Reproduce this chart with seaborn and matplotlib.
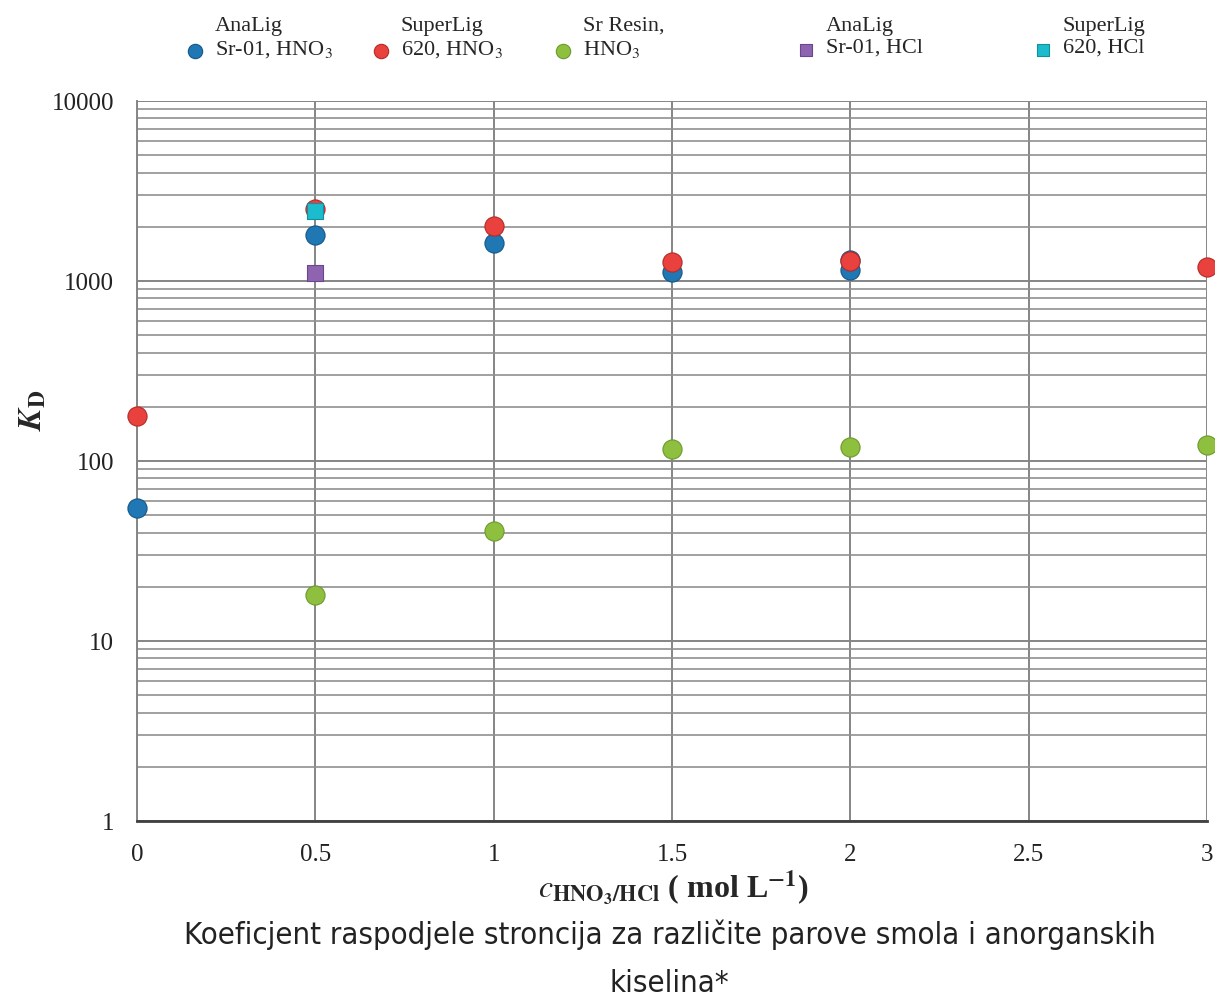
import numpy as np
import pandas as pd
import matplotlib
matplotlib.use("Agg")
import matplotlib.pyplot as plt
import seaborn as sns
from matplotlib.ticker import LogLocator, FixedLocator, NullFormatter

# data
x_analig_hno3 = [0, 0.5, 1, 1.5, 2, 2]
kd_analig_hno3 = [55, 1800, 1620, 1120, 1150, 1300]
x_superlig_hno3 = [0, 0.5, 1, 1.5, 2, 3]
kd_superlig_hno3 = [178, 2500, 2020, 1270, 1290, 1200]
x_srresin_hno3 = [0.5, 1, 1.5, 2, 3]
kd_srresin_hno3 = [18, 40.8, 116, 119, 122]
x_analig_hcl = [0.5]
kd_analig_hcl = [1110]
x_superlig_hcl = [0.5]
kd_superlig_hcl = [2450]

x_ticks = [0, 0.5, 1, 1.5, 2, 2.5, 3]
x_ticklabels = ["0", "0.5", "1", "1.5", "2", "2.5", "3"]

sns.set_style("white")
plt.rcParams['font.family'] = ['Liberation Serif', 'DejaVu Serif']
plt.rcParams['mathtext.fontset'] = 'stix'

W, H = 1215, 1008
fig = plt.figure(figsize=(W / 100, H / 100), dpi=100)
ax = fig.add_axes([137/W, 1 - 821/H, (1207-137)/W, (821-101)/H])

series = [
    (x_analig_hno3, kd_analig_hno3, "#1f77b4", "#15578a", "o", "AnaLig\nSr-01, HNO$_3$"),
    (x_superlig_hno3, kd_superlig_hno3, "#e8413e", "#b52a27", "o", "SuperLig\n620, HNO$_3$"),
    (x_srresin_hno3, kd_srresin_hno3, "#8fbf3f", "#6c9a2a", "o", "Sr Resin,\nHNO$_3$"),
    (x_analig_hcl, kd_analig_hcl, "#8e63b0", "#6a4590", "s", "AnaLig\nSr-01, HCl"),
    (x_superlig_hcl, kd_superlig_hcl, "#1bbccd", "#13909c", "s", "SuperLig\n620, HCl"),
]
for xs, ys, col, edge, mk, lab in series:
    df = pd.DataFrame({"x": xs, "kd": ys})
    size = 190 if mk == "o" else 120
    sns.scatterplot(data=df, x="x", y="kd", ax=ax, color=col, marker=mk, s=size,
                    edgecolor=edge, linewidth=0.8, label=lab, zorder=5,
                    clip_on=False)

ax.set_yscale("log")
ax.set_ylim(1, 10000)
ax.set_xlim(0, 3)
ax.xaxis.set_major_locator(FixedLocator(x_ticks))
ax.set_xticklabels(x_ticklabels)
ax.set_yticks([1, 10, 100, 1000, 10000])
ax.set_yticklabels(["1", "10", "100", "1000", "10000"])
ax.yaxis.set_minor_locator(LogLocator(base=10, subs=np.arange(2, 10), numticks=20))
ax.yaxis.set_minor_formatter(NullFormatter())

ax.grid(True, which="major", axis="both", color="#858585", linewidth=1.4)
ax.grid(True, which="minor", axis="y", color="#909090", linewidth=1.2)
ax.tick_params(axis="both", which="major", labelsize=18, direction="out",
               length=6.5, color="#858585", width=1.3, labelcolor="#222222")
ax.tick_params(axis="x", which="major", pad=10)
ax.tick_params(axis="y", which="major", pad=10)
ax.tick_params(axis="y", which="minor", length=0)
for side in ["top", "right"]:
    ax.spines[side].set_visible(False)
ax.spines["left"].set_color("#858585")
ax.spines["left"].set_linewidth(1.4)
ax.spines["bottom"].set_color("#404040")
ax.spines["bottom"].set_linewidth(2)

ax.set_ylabel(r"$\mathbfit{K}_{\mathbf{D}}$", fontsize=24)
ax.yaxis.set_label_coords((48 - 137) / 1070, (821 - 410) / 720)
ax.set_xlabel(r"$\mathit{c}_{\mathbf{HNO_3/HCl}}$" + " ( mol L$^{\mathbf{-1}}$)",
              fontsize=23, fontweight="bold")
ax.xaxis.set_label_coords((673 - 137) / 1070, (821 - 868) / 720)

handles, labels = ax.get_legend_handles_labels()
ax.legend_.remove()
marker_x = [195, 381, 563, 806, 1043]
leg_fs = 16
for h, lab, mx in zip(handles, labels, marker_x):
    anchor = (mx - 0.5 * leg_fs * 100 / 72) / W
    fig.legend([h], [lab], loc="upper left", bbox_to_anchor=(anchor, 1 - 17 / H),
               frameon=False, fontsize=leg_fs, borderaxespad=0, borderpad=0,
               handlelength=1.0, handletextpad=0.4, labelspacing=0,
               markerscale=0.75, scatteryoffsets=[-0.35])

title_font = ["Liberation Sans Narrow", "DejaVu Sans"]
fig.text(0.551, 1 - 935 / H, "Koeficjent raspodjele stroncija za različite parove smola i anorganskih",
         ha="center", va="center", fontsize=22.3, color="#222222",
         family=title_font, fontstretch="condensed")
fig.text(0.551, 1 - 984 / H, "kiselina*", ha="center", va="center", fontsize=22.3,
         color="#222222", family=title_font, fontstretch="condensed")

fig.savefig("out.png", dpi=100)
